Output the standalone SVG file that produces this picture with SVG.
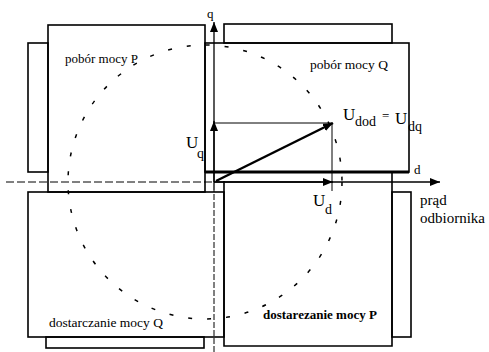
<svg xmlns="http://www.w3.org/2000/svg" width="489" height="352" viewBox="0 0 489 352">
<style>
.box{fill:none;stroke:#000;stroke-width:1.6}
.thin{fill:none;stroke:#000;stroke-width:1}
.t{font-family:"Liberation Serif","Times New Roman",serif;fill:#000}
</style>
<defs>
<marker id="ah" viewBox="0 0 10 8" refX="10" refY="4" markerWidth="10" markerHeight="8" markerUnits="userSpaceOnUse" orient="auto">
<path d="M0,0 L10,4 L0,8 Z" fill="#000"/>
</marker>
</defs>
<rect width="489" height="352" fill="#fff"/>
<g id="box-pobor-P">
<rect class="box" x="48" y="25" width="157" height="167"/>
<rect class="box" x="28" y="43" width="20" height="129"/>
<text class="t" x="65" y="63" font-size="13" font-family="Liberation Serif, serif">pobór mocy P</text>
</g>
<g id="box-pobor-Q">
<rect class="box" x="205" y="43" width="204" height="129"/>
<rect class="box" x="224" y="24" width="168" height="19"/>
<line x1="205" y1="172" x2="409" y2="172" stroke="#000" stroke-width="3"/>
<text class="t" x="310" y="69" font-size="13.5" font-family="Liberation Serif, serif">pobór mocy Q</text>
</g>
<g id="box-dostarczanie-P">
<path class="box" d="M224,181 V346 H392 V172"/>
<rect class="box" x="392" y="192" width="19" height="145"/>
<text class="t" x="263" y="319" font-size="13" font-weight="bold" font-family="Liberation Serif, serif">dostarezanie mocy P</text>
</g>
<g id="box-dostarczanie-Q">
<rect class="box" x="28" y="192" width="196" height="145"/>
<rect class="box" x="46" y="337" width="158" height="11"/>
<text class="t" x="49" y="327" font-size="13.5" font-family="Liberation Serif, serif">dostarczanie mocy Q</text>
</g>
<g id="circle">
<circle cx="205" cy="182" r="137" fill="none" stroke="#000" stroke-width="1.5" stroke-dasharray="4 15"/>
</g>
<g id="connectors">
<line x1="6" y1="182" x2="214" y2="182" stroke="#000" stroke-width="1" stroke-dasharray="8 3"/>
<line x1="214" y1="182" x2="440" y2="182" stroke="#000" stroke-width="1.3" marker-end="url(#ah)"/>
<line x1="214" y1="352" x2="214" y2="190" stroke="#000" stroke-width="1" stroke-dasharray="6 2"/>
<line x1="214" y1="190" x2="214" y2="22" stroke="#000" stroke-width="1.3" marker-end="url(#ah)"/>
<line x1="214" y1="182" x2="214" y2="121" stroke="#000" stroke-width="1.3" marker-end="url(#ah)"/>
<line x1="214" y1="182" x2="333" y2="182" stroke="#000" stroke-width="1.3" marker-end="url(#ah)"/>
<line class="thin" x1="214" y1="123" x2="332" y2="123"/>
<line class="thin" x1="332" y1="123" x2="332" y2="191"/>
<line x1="216" y1="181" x2="333" y2="123" stroke="#000" stroke-width="2.5" marker-end="url(#ah)"/>
</g>
<g id="labels" font-family="Liberation Serif, serif">
<text class="t" x="207" y="18" font-size="13">q</text>
<text class="t" x="414" y="174" font-size="13">d</text>
<text class="t" x="186" y="148" font-size="17">U</text>
<text class="t" x="197" y="158" font-size="14">q</text>
<text class="t" x="343" y="120" font-size="17">U</text>
<text class="t" x="355" y="126" font-size="14">dod</text>
<text class="t" x="382" y="120" font-size="13">=</text>
<text class="t" x="395" y="124" font-size="17">U</text>
<text class="t" x="408" y="131" font-size="14">dq</text>
<text class="t" x="313" y="206" font-size="17">U</text>
<text class="t" x="325" y="214" font-size="14">d</text>
<text class="t" x="420" y="205" font-size="15">prąd</text>
<text class="t" x="420" y="223" font-size="15">odbiornika</text>
</g>
</svg>
